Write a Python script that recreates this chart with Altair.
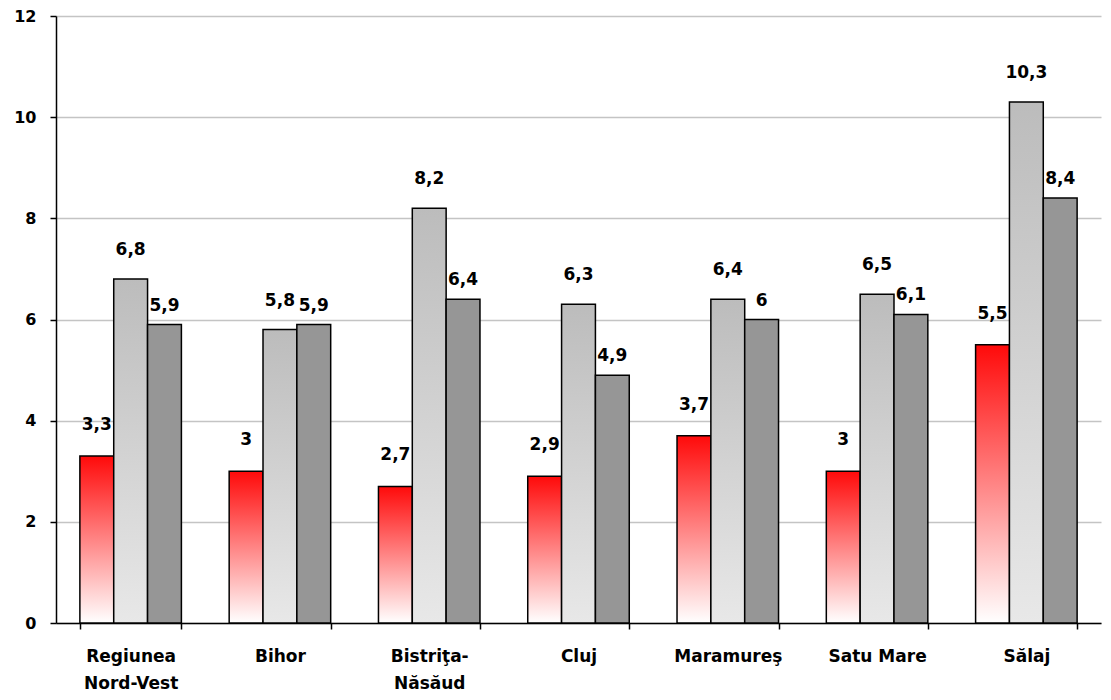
import altair as alt
import pandas as pd

categories = ["Regiunea Nord-Vest", "Bihor", "Bistriţa-Năsăud", "Cluj", "Maramureş", "Satu Mare", "Sălaj"]
series_names = ["Seria 1", "Seria 2", "Seria 3"]
serie1 = [3.3, 3, 2.7, 2.9, 3.7, 3, 5.5]
serie2 = [6.8, 5.8, 8.2, 6.3, 6.4, 6.5, 10.3]
serie3 = [5.9, 5.9, 6.4, 4.9, 6, 6.1, 8.4]

rows = []
for s, vals in zip(series_names, [serie1, serie2, serie3]):
    for c, v in zip(categories, vals):
        rows.append({"cat": c, "serie": s, "val": v})
df = pd.DataFrame(rows)

FONT = "DejaVu Sans"

def grad(top, bottom):
    return alt.Gradient(
        gradient="linear", x1=0, x2=0, y1=0, y2=1,
        stops=[alt.GradientStop(color=top, offset=0), alt.GradientStop(color=bottom, offset=1)],
    )

fills = {
    "Seria 1": grad("#ff0a0a", "#ffffff"),
    "Seria 2": grad("#bcbcbc", "#e8e8e8"),
    "Seria 3": "#969696",
}
label_dy = {"Seria 1": -31, "Seria 2": -29, "Seria 3": -19}

x_enc = alt.X(
    "cat:N", sort=categories, title=None,
    scale=alt.Scale(paddingInner=0.32, paddingOuter=0.16),
    axis=alt.Axis(
        labelAngle=0, tickBand="extent", tickSize=6, tickColor="black", tickWidth=1.5,
        domainColor="black", domainWidth=1.5, labelFont=FONT, labelFontWeight="bold",
        labelFontSize=17, labelColor="black", labelPadding=19, labelLineHeight=27,
        labelExpr="datum.label == 'Regiunea Nord-Vest' ? ['Regiunea', 'Nord-Vest'] : datum.label == 'Bistriţa-Năsăud' ? ['Bistriţa-', 'Năsăud'] : datum.label",
        grid=False,
    ),
)
xo_enc = alt.XOffset("serie:N", sort=series_names,
                     scale=alt.Scale(domain=series_names, paddingInner=0, paddingOuter=0))
y_enc = alt.Y(
    "val:Q", title=None,
    scale=alt.Scale(domain=[0, 12], nice=False),
    axis=alt.Axis(
        values=[0, 2, 4, 6, 8, 10, 12], grid=True, gridColor="#c4c4c4", gridWidth=1.5,
        tickSize=6, tickColor="black", tickWidth=1.5, domainColor="black", domainWidth=1.5,
        labelFont=FONT, labelFontWeight="bold", labelFontSize=16, labelColor="black",
        labelPadding=14,
    ),
)

base = alt.Chart(df)
layers = []
for s in series_names:
    layers.append(
        base.transform_filter(alt.datum.serie == s)
        .mark_bar(fill=fills[s], stroke="black", strokeWidth=1.5)
        .encode(x=x_enc, xOffset=xo_enc, y=y_enc)
    )
for s in series_names:
    layers.append(
        base.transform_filter(alt.datum.serie == s)
        .transform_calculate(lab="replace(toString(datum.val), '.', ',')")
        .mark_text(font=FONT, fontWeight="bold", fontSize=17, color="black",
                   baseline="middle", dy=label_dy[s])
        .encode(x=x_enc, xOffset=xo_enc, y=y_enc, text="lab:N")
    )

chart = alt.layer(*layers).properties(
    width=1045, height=607,
    autosize=alt.AutoSizeParams(type="none"),
    padding={"left": 48, "top": 8, "right": 2, "bottom": 69},
).configure_view(stroke=None)

chart.save("out.html", embed_options={"renderer": "svg", "actions": False})
